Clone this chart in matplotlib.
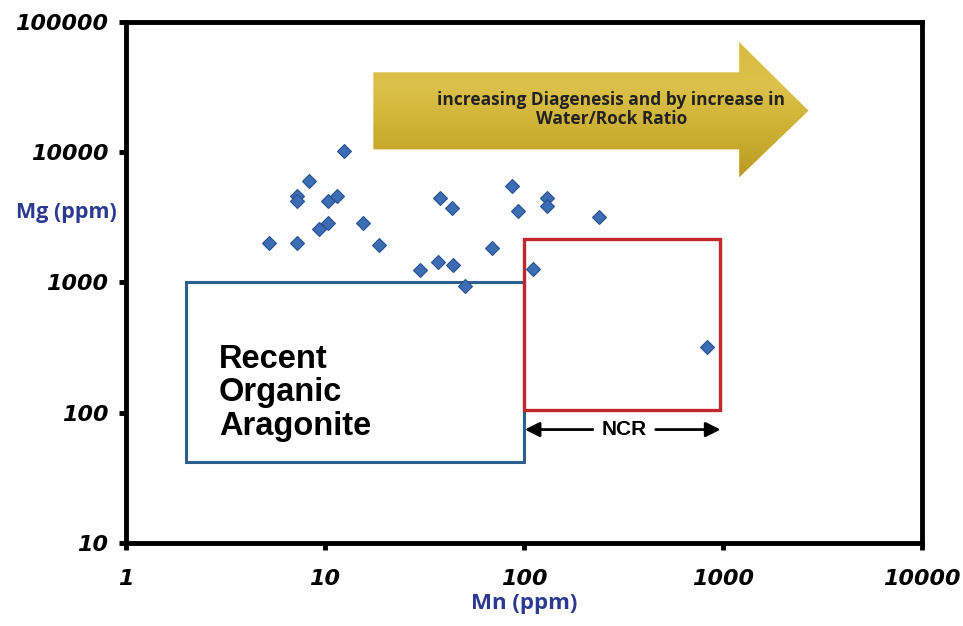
import numpy as np
import matplotlib
matplotlib.use("Agg")
import matplotlib.pyplot as plt
from matplotlib.patches import Rectangle, Polygon
from matplotlib.colors import LinearSegmentedColormap

# Mn (ppm) vs Mg (ppm)
mn = [12.4, 8.3, 7.2, 7.2, 10.3, 11.5, 10.3, 9.3, 15.5, 5.2, 7.2, 18.6,
      37.9, 43.4, 86.8, 93.0, 130, 130, 240, 30.1, 37.2, 44.2, 50.6,
      69.3, 111, 836]
mg = [10200, 6000, 4600, 4200, 4200, 4600, 2880, 2560, 2880, 2020, 2020, 1940,
      4480, 3710, 5510, 3500, 4480, 3860, 3150, 1240, 1440, 1360, 940,
      1830, 1260, 316]

# boxes: (xmin, xmax, ymin, ymax)
aragonite_box = (2, 100, 42, 1000)
ncr_box = (100, 970, 105, 2150)
ncr_y = 74

# big arrow outline in data units
arrow_x = [17.5, 1210, 1210, 2700, 1210, 1210, 17.5]
arrow_y = [41000, 41000, 70000, 20800, 6400, 10500, 10500]

xticks = [1, 10, 100, 1000, 10000]
yticks = [10, 100, 1000, 10000, 100000]

navy = "#2b3990"

fig = plt.figure(figsize=(9.63, 6.26), dpi=100)
ax = fig.add_axes([0.131, 0.133, 0.826, 0.832])
ax.set_xscale("log")
ax.set_yscale("log")
ax.set_xlim(1, 10000)
ax.set_ylim(10, 100000)

ax.plot(mn, mg, "D", color="#3c6cb4", markeredgecolor="#2a5190",
        markeredgewidth=0.8, markersize=7.5, zorder=5)

x0, x1, y0, y1 = aragonite_box
ax.add_patch(Rectangle((x0, y0), x1 - x0, y1 - y0, fill=False,
                       edgecolor="#2f5f8f", linewidth=2.2, zorder=3))
x0, x1, y0, y1 = ncr_box
ax.add_patch(Rectangle((x0, y0), x1 - x0, y1 - y0, fill=False,
                       edgecolor="#c0282d", linewidth=2.4, zorder=4))

ax.text(2.93, 142, "Recent\nOrganic\nAragonite", fontsize=23.5,
        fontweight="bold", family="Liberation Sans", va="center",
        ha="left", linespacing=1.1)

# NCR range arrow
ax.annotate("", xy=(101, ncr_y), xytext=(222, ncr_y),
            arrowprops=dict(arrowstyle="-|>", color="black", lw=2.0,
                            mutation_scale=22, shrinkA=0, shrinkB=0))
ax.annotate("", xy=(975, ncr_y), xytext=(460, ncr_y),
            arrowprops=dict(arrowstyle="-|>", color="black", lw=2.0,
                            mutation_scale=22, shrinkA=0, shrinkB=0))
ax.text(318, ncr_y, "NCR", fontsize=15, fontweight="bold",
        family="Liberation Sans", ha="center", va="center")

# gold arrow with a vertical gradient
ax_frac = [(np.log10(a) / 4, (np.log10(b) - 1) / 4)
           for a, b in zip(arrow_x, arrow_y)]
poly = Polygon(ax_frac, closed=True, transform=ax.transAxes,
               facecolor="none", edgecolor="none")
ax.add_patch(poly)
gold = LinearSegmentedColormap.from_list(
    "gold", ["#b89a25", "#cdb032", "#dcc14a", "#d8bb40"])
grad = np.linspace(0, 1, 256).reshape(-1, 1)
fx = [p[0] for p in ax_frac]
fy = [p[1] for p in ax_frac]
img = ax.imshow(grad, cmap=gold, origin="lower", aspect="auto",
                extent=[min(fx), max(fx), min(fy), max(fy)],
                transform=ax.transAxes, zorder=2)
img.set_clip_path(poly)
ax.set_xlim(1, 10000)
ax.set_ylim(10, 100000)
ax.text(0.61, 0.832,
        "increasing Diagenesis and by increase in\nWater/Rock Ratio",
        transform=ax.transAxes, fontsize=12.5, fontweight="bold",
        family="Open Sans", ha="center", va="center", color="#222222",
        linespacing=1.05, zorder=6)

for s in ax.spines.values():
    s.set_linewidth(3.5)
    s.set_color("black")

ax.set_xticks(xticks)
ax.set_yticks(yticks)
ax.set_xticklabels([str(v) for v in xticks])
ax.set_yticklabels([str(v) for v in yticks])
ax.minorticks_off()
ax.tick_params(axis="both", direction="out", length=5, width=3.5, pad=14,
               labelsize=16)
for lab in ax.get_xticklabels() + ax.get_yticklabels():
    lab.set_fontweight("bold")
    lab.set_fontstyle("italic")
    lab.set_family("DejaVu Sans")
ax.tick_params(axis="y", pad=8)

ax.set_xlabel("Mn (ppm)", fontsize=16, fontweight="bold", color=navy,
              family="Open Sans", labelpad=3)
fig.text(0.069, 0.66, "Mg (ppm)", fontsize=15.5, fontweight="bold",
         color=navy, family="Open Sans", ha="center", va="center")

fig.savefig("out.png", dpi=100, facecolor="white")
